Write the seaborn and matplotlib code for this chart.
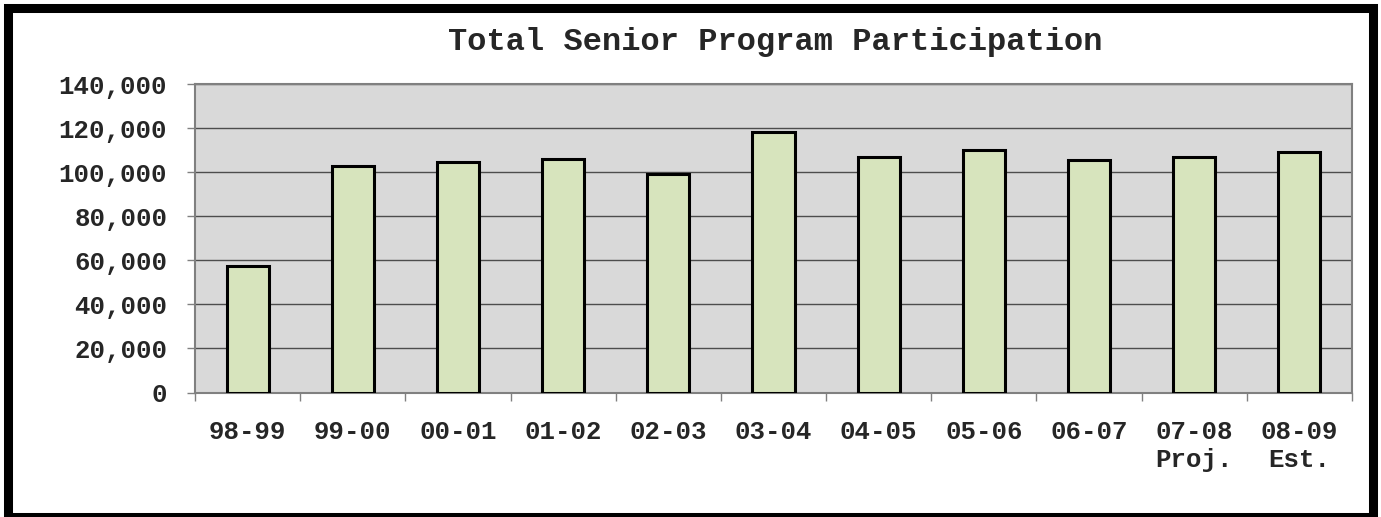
import matplotlib
matplotlib.use("Agg")
import matplotlib.pyplot as plt
import matplotlib.ticker as mticker
import seaborn as sns
import pandas as pd
from matplotlib.patches import Rectangle

# === Data ===
seasons = ["98-99", "99-00", "00-01", "01-02", "02-03", "03-04",
           "04-05", "05-06", "06-07", "07-08\nProj.", "08-09\nEst."]
participants = [57400, 102900, 104700, 105800, 99200, 118400,
                106700, 109900, 105400, 106900, 109000]

sns.set_theme(style="white")
plt.rcParams['font.family'] = ['Liberation Mono', 'DejaVu Sans Mono']
plt.rcParams['font.weight'] = 'bold'

df = pd.DataFrame({"season": seasons, "participants": participants})

fig = plt.figure(figsize=(13.81, 5.17), dpi=100)
ax = fig.add_axes([0.1412, 0.2408, 0.8378, 0.5967])
ax.set_facecolor("#d9d9d9")

sns.barplot(data=df, x="season", y="participants", color="#d7e4bd",
            saturation=1, edgecolor="black", linewidth=2.2, width=0.4, ax=ax,
            zorder=3)

ax.set_ylim(0, 140000)
ax.set_xlim(-0.5, len(seasons) - 0.5)
ax.yaxis.set_major_locator(mticker.MultipleLocator(20000))
ax.yaxis.set_major_formatter(mticker.FuncFormatter(lambda v, p: f"{int(v):,}"))
ax.grid(True, axis="y", color="#4d4d4d", linewidth=1, zorder=1)
ax.set_axisbelow(True)

# category labels without ticks, boundary ticks as minor
ax.tick_params(axis="x", which="major", length=0, pad=20, labelsize=18.5)
ax.set_xticks([i + 0.5 for i in range(-1, len(seasons))], minor=True)
ax.tick_params(axis="x", which="minor", length=6, width=1, color="#808080",
               direction="out", bottom=True)
ax.tick_params(axis="y", length=6, width=1, color="#808080", left=True,
               direction="out", pad=14, labelsize=18.5)
for lab in ax.get_xticklabels() + ax.get_yticklabels():
    lab.set_fontweight("bold")

ax.set_xlabel("")
ax.set_ylabel("")
for side in ["top", "right", "left", "bottom"]:
    ax.spines[side].set_visible(True)
    ax.spines[side].set_color("#808080")
    ax.spines[side].set_linewidth(1.5)

fig.text(0.5615, 0.919, "Total Senior Program Participation",
         ha="center", va="center", fontsize=23, fontweight="bold")

# thick outer frame
fig.patches.append(Rectangle((0.0058, 0.0), 0.9884, 0.984, transform=fig.transFigure,
                             fill=False, edgecolor="black", linewidth=6.5))

plt.savefig("out.png", dpi=100)
plt.close()
